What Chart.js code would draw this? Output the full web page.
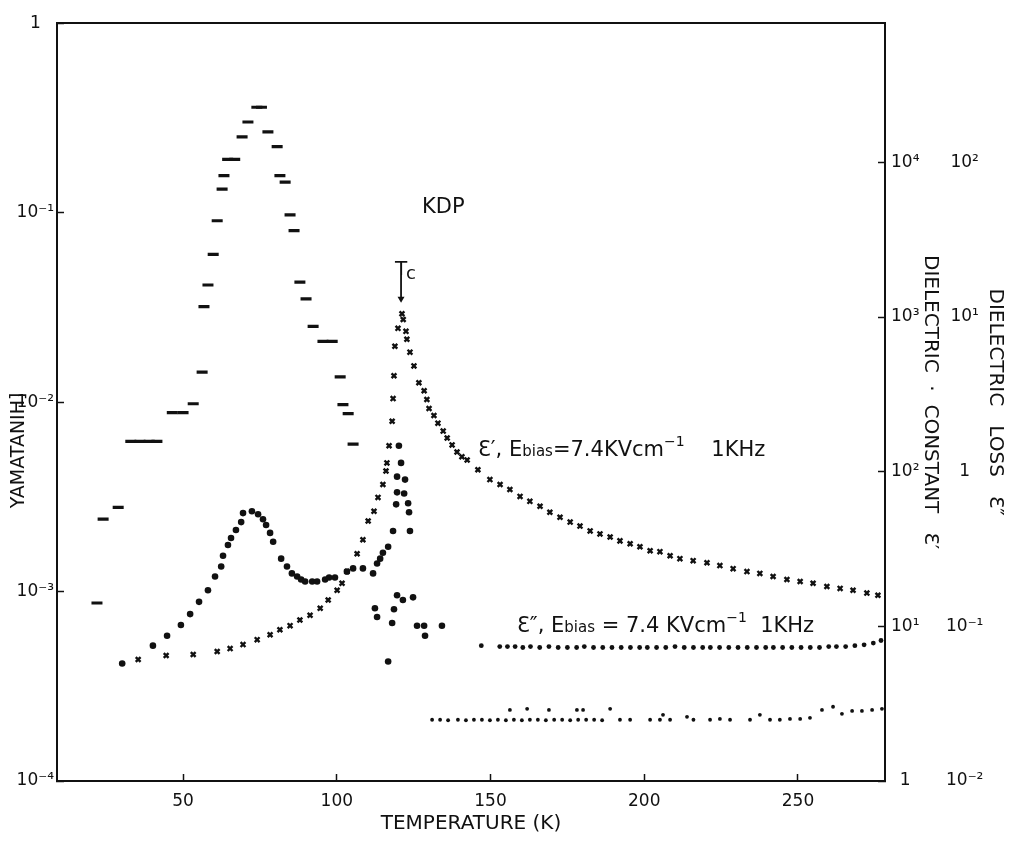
<!DOCTYPE html>
<html>
<head>
<meta charset="utf-8">
<script src="https://cdn.jsdelivr.net/npm/chart.js@4.4.1/dist/chart.umd.min.js"></script>
<style>
  html, body { margin: 0; padding: 0; background: #fff; }
  #wrap { width: 1016px; height: 841px; }
</style>
</head>
<body>
<div id="wrap"><canvas id="myChart" width="1016" height="841"></canvas></div>
<script>
// temperature ticks (K)
const xTicks = [50, 100, 150, 200, 250];

// left axis decades
const leftTickVals = [1e-4, 1e-3, 1e-2, 1e-1, 1];
const leftTickLabels = ['10⁻⁴', '10⁻³', '10⁻²', '10⁻¹', '1'];
// dielectric constant decades
const constTickVals = [1, 10, 100, 1000, 10000];
const constTickLabels = ['1', '10¹', '10²', '10³', '10⁴'];
// dielectric loss decades
const lossTickVals = [0.01, 0.1, 1, 10, 100];
const lossTickLabels = ['10⁻²', '10⁻¹', '1', '10¹', '10²'];

// dashed series, left axis
const leftT = [22, 24, 28.9, 33, 36, 39, 41.5, 46.5, 50, 53.3, 56.2, 56.8, 58.1, 59.8, 61.1,
  62.7, 63.3, 64.5, 66.8, 69.2, 71.1, 74, 75.5, 77.6, 80.6, 81.5, 83.2, 84.8, 86.1, 88, 90,
  92.3, 95.5, 98.5, 101.1, 102, 103.7, 105.3];
const leftV = [8.7e-4, 2.41e-3, 2.78e-3, 6.2e-3, 6.2e-3, 6.2e-3, 6.2e-3, 8.8e-3, 8.8e-3, 9.8e-3,
  0.0144, 0.0319, 0.0415, 0.0602, 0.0906, 0.133, 0.157, 0.191, 0.191, 0.251, 0.301, 0.36, 0.36,
  0.267, 0.223, 0.157, 0.145, 0.0973, 0.0803, 0.043, 0.0351, 0.0251, 0.0209, 0.0209, 0.0136,
  0.0097, 0.0087, 0.006];

// dielectric constant e' (crosses)
const constT = [35.4, 44.5, 53.3, 61.1, 65.3, 69.5, 74.1, 78.3, 81.5, 84.8, 88, 91.3, 94.6, 97.2,
  100.1, 101.7, 103.3, 106.6, 108.5, 110.2, 112.1, 113.4, 115, 116, 116.3, 117, 118, 118.3, 118.6,
  118.9, 119.9, 121.2, 121.6, 122.5, 122.8, 123.8, 125.1, 126.7, 128.4, 129.3, 130, 131.6, 132.9,
  134.6, 135.9, 137.5, 139.1, 140.7, 142.4, 145.9, 149.8, 153.1, 156.3, 159.6, 162.8, 166.1,
  169.3, 172.6, 175.9, 179.1, 182.4, 185.6, 188.9, 192.1, 195.4, 198.6, 201.9, 205.1, 208.4,
  211.6, 215.9, 220.4, 224.6, 228.9, 233.4, 237.6, 241.9, 246.4, 250.7, 254.9, 259.4, 263.7,
  267.9, 272.4, 276];
const constV = [6.11, 6.48, 6.58, 6.87, 7.18, 7.62, 8.2, 8.83, 9.5, 10.1, 11, 11.8, 13.1, 14.8,
  17.1, 19, 22.6, 29.5, 36.3, 48, 55.5, 68.2, 82.6, 101, 114, 147, 212, 297, 417,
  648, 845, 1050, 964, 808, 718, 593, 483, 376, 334, 293, 256, 231, 206,
  183, 165, 149, 134, 125, 119, 103, 88.9, 82.6, 76.7, 69.2, 64.3, 59.8,
  54.7, 50.8, 47.2, 44.5, 41.4, 39.6, 37.8, 35.7, 34.2, 32.7, 30.8, 30.4, 28.6,
  27.4, 26.6, 25.8, 24.7, 23.6, 22.6, 22, 21, 20.1, 19.5, 19, 18.1, 17.6,
  17.1, 16.4, 15.9];

// loss with hump near 72 K (large dots)
const humpT = [30.2, 40.2, 44.8, 49.3, 52.3, 55.2, 58.1, 60.4, 62.4, 63, 64.6, 65.6, 67.2, 68.9,
  69.5, 72.4, 74.4, 76, 77, 78.3, 79.3, 81.9, 83.8, 85.4, 87.1, 88.4, 89.7, 92, 93.6, 96.2, 97.5,
  99.4, 103.3, 105.3, 108.5, 111.8, 113.1, 114.1, 115, 116.7, 118.3, 119.3, 119.6, 119.6, 120.2,
  120.9, 121.9, 122.2, 123.2, 123.5, 123.8];
const humpV = [0.0575, 0.075, 0.0869, 0.102, 0.12, 0.144, 0.171, 0.21, 0.244, 0.286, 0.336, 0.373,
  0.42, 0.472, 0.54, 0.555, 0.531, 0.493, 0.452, 0.402, 0.352, 0.274, 0.244, 0.22, 0.21, 0.201,
  0.195, 0.195, 0.195, 0.201, 0.207, 0.207, 0.226, 0.237, 0.237, 0.22, 0.255, 0.274, 0.299, 0.327,
  0.414, 0.615, 0.735, 0.929, 1.47, 1.14, 0.723, 0.889, 0.625, 0.547, 0.414];

// scattered loss points around Tc
const scatT = [112.4, 113.1, 116.7, 118, 118.6, 119.6, 121.5, 124.8, 126.1, 128.4, 128.7, 134.2];
const scatV = [0.131, 0.115, 0.0593, 0.105, 0.129, 0.159, 0.148, 0.154, 0.101, 0.101, 0.0869, 0.101];

// e'' with bias, flat row
const flatT = [147, 153, 155.5, 158, 160.5, 163, 166, 169, 172, 175, 178, 180.5, 183.5, 186.5,
  189.5, 192.5, 195.5, 198.5, 201, 204, 207, 210, 213, 216, 219, 221.5, 224.5, 227.5, 230.5,
  233.5, 236.5, 239.5, 242, 245, 248, 251, 254, 257, 260, 262.5, 265.5, 268.5, 271.5, 274.5, 277];
const flatV = [0.075, 0.074, 0.074, 0.074, 0.073, 0.074, 0.073, 0.074, 0.073, 0.073, 0.073, 0.074,
  0.073, 0.073, 0.073, 0.073, 0.073, 0.073, 0.073, 0.073, 0.073, 0.074, 0.073, 0.073, 0.073, 0.073,
  0.073, 0.073, 0.073, 0.073, 0.073, 0.073, 0.073, 0.073, 0.073, 0.073, 0.073, 0.073, 0.074, 0.074,
  0.074, 0.075, 0.076, 0.078, 0.081];

// lowest row
const lowT = [131, 133.6, 136.2, 139.4, 142, 144.6, 147.2, 149.8, 152.4, 155, 156.3, 157.6, 160.2,
  161.9, 162.8, 165.4, 168, 169, 170.7, 173.3, 175.9, 178.1, 178.5, 180.1, 181.1, 183.7, 186.3,
  188.9, 192.1, 195.4, 201.9, 205.1, 206.1, 208.4, 213.9, 216, 221.4, 224.6, 227.9, 234.4, 237.6,
  240.9, 244.1, 247.4, 250.7, 253.9, 257.8, 261.4, 264.3, 267.6, 270.8, 274.1, 277.3];
const lowV = [0.0249, 0.0249, 0.0247, 0.0249, 0.0247, 0.0249, 0.0249, 0.0247, 0.0249, 0.0247,
  0.0288, 0.0249, 0.0247, 0.0293, 0.0249, 0.0249, 0.0247, 0.0288, 0.0249, 0.0249, 0.0247, 0.0288,
  0.0249, 0.0288, 0.0249, 0.0249, 0.0247, 0.0293, 0.0249, 0.0249, 0.0249, 0.0249, 0.0268, 0.0249,
  0.026, 0.0249, 0.0249, 0.0252, 0.0249, 0.0249, 0.0268, 0.0249, 0.0249, 0.0252, 0.0252, 0.0256,
  0.0288, 0.0302, 0.0272, 0.0284, 0.0284, 0.0288, 0.0293];

const ink = '#111';
const fam = '"DejaVu Sans", sans-serif';

const pts = (xs, ys) => xs.map((x, i) => ({ x: x, y: ys[i] }));

const dot = (data, axis, r) => ({
    data: data, yAxisID: axis, pointStyle: 'circle', pointRadius: r,
    pointBackgroundColor: ink, pointBorderColor: ink, pointBorderWidth: 0
});

// text drawn inside the plot
const notes = {
    id: 'notes',
    afterDatasetsDraw(chart) {
        const { ctx, scales: { x, yc } } = chart;
        const drawParts = (px, py, parts) => {
            let cx = px;
            parts.forEach(p => {
                ctx.font = p.s + 'px ' + fam;
                ctx.fillText(p.t, cx, py + (p.dy || 0));
                cx += ctx.measureText(p.t).width;
            });
        };
        ctx.save();
        ctx.fillStyle = ink;
        ctx.strokeStyle = ink;
        ctx.textBaseline = 'alphabetic';
        ctx.textAlign = 'left';

        ctx.font = '21px ' + fam;
        ctx.fillText('KDP', x.getPixelForValue(127.7), yc.getPixelForValue(4721));

        // Tc with arrow
        const tx = x.getPixelForValue(120.9);
        ctx.textAlign = 'center';
        ctx.font = '20px ' + fam;
        ctx.fillText('T', tx, yc.getPixelForValue(1870));
        ctx.textAlign = 'left';
        ctx.font = '18px ' + fam;
        ctx.fillText('c', tx + 5, yc.getPixelForValue(1760));
        const a0 = yc.getPixelForValue(1870), a1 = yc.getPixelForValue(1238);
        ctx.lineWidth = 1.8;
        ctx.beginPath();
        ctx.moveTo(tx, a0);
        ctx.lineTo(tx, a1 - 5);
        ctx.stroke();
        ctx.beginPath();
        ctx.moveTo(tx - 3.5, a1 - 6);
        ctx.lineTo(tx + 3.5, a1 - 6);
        ctx.lineTo(tx, a1);
        ctx.closePath();
        ctx.fill();

        drawParts(x.getPixelForValue(145.9), yc.getPixelForValue(126.5), [
            { t: 'Ɛ\u2032', s: 21 }, { t: ', E', s: 21 }, { t: 'bias', s: 15 },
            { t: '=7.4KVcm', s: 21 }, { t: '\u22121', s: 14, dy: -10 }, { t: '    1KHz', s: 21 }
        ]);
        drawParts(x.getPixelForValue(158.6), yc.getPixelForValue(9.22), [
            { t: 'Ɛ\u2033', s: 21 }, { t: ', E', s: 21 }, { t: 'bias', s: 15 },
            { t: ' = 7.4 KVcm', s: 21 }, { t: '\u22121', s: 14, dy: -10 }, { t: '  1KHz', s: 21 }
        ]);
        ctx.restore();
    }
};

const ctx = document.getElementById('myChart').getContext('2d');

const data = {
    datasets: [
        {
            data: pts(leftT, leftV), yAxisID: 'yLeft', pointStyle: 'line', pointRadius: 5.5,
            pointBorderWidth: 3.2, pointBorderColor: ink, pointBackgroundColor: ink
        },
        {
            data: pts(constT, constV), yAxisID: 'yc', pointStyle: 'crossRot', pointRadius: 3.4,
            pointBorderWidth: 2.4, pointBorderColor: ink, pointBackgroundColor: ink
        },
        dot(pts(humpT, humpV), 'yl', 3.3),
        dot(pts(scatT, scatV), 'yl', 3.3),
        dot(pts(flatT, flatV), 'yl', 2.4),
        dot(pts(lowT, lowV), 'yl', 1.9)
    ]
};

const tickFont = { family: fam, size: 17 };

const options = {
    type: 'scatter',
    data: data,
    options: {
        responsive: false,
        animation: false,
        devicePixelRatio: 1,
        layout: { padding: { top: 13, right: 9, bottom: 0, left: 0 } },
        plugins: { legend: { display: false }, tooltip: { enabled: false } },
        scales: {
            x: {
                type: 'linear', position: 'bottom', min: 9, max: 278.3,
                afterBuildTicks: s => { s.ticks = xTicks.map(v => ({ value: v })); },
                ticks: { color: ink, font: tickFont, padding: 17, maxRotation: 0, autoSkip: false },
                grid: { drawOnChartArea: false, tickLength: -7, tickColor: ink, tickWidth: 1.5 },
                border: { color: ink, width: 2 },
                title: {
                    display: true, text: 'TEMPERATURE (K)', color: ink,
                    font: { family: fam, size: 20 }, padding: { top: 0, bottom: 5 }
                },
                afterFit: s => { s.height = 60; }
            },
            x2: {
                type: 'linear', position: 'top', min: 9, max: 278.3, display: true,
                ticks: { display: false },
                grid: { display: false, drawTicks: false },
                border: { display: true, color: ink, width: 2 },
                afterFit: s => { s.height = 0; }
            },
            yLeft: {
                type: 'logarithmic', position: 'left', min: 1e-4, max: 1,
                afterBuildTicks: s => { s.ticks = leftTickVals.map(v => ({ value: v })); },
                ticks: {
                    color: ink, font: tickFont, padding: 10, crossAlign: 'center', autoSkip: false,
                    callback: (v, i) => leftTickLabels[i]
                },
                grid: { drawOnChartArea: false, tickLength: -7, tickColor: ink, tickWidth: 1.5 },
                border: { color: ink, width: 2 },
                title: {
                    display: true, text: 'YAMATANIH]                ', color: ink,
                    font: { family: fam, size: 19 }, padding: { top: 8, bottom: 0 }
                },
                afterFit: s => { s.width = 57; }
            },
            yc: {
                type: 'logarithmic', position: 'right', weight: 1, min: 1, max: 79433,
                afterBuildTicks: s => { s.ticks = constTickVals.map(v => ({ value: v })); },
                ticks: {
                    color: ink, font: tickFont, padding: 13, crossAlign: 'center', autoSkip: false,
                    callback: (v, i) => constTickLabels[i]
                },
                grid: { drawOnChartArea: false, tickLength: -7, tickColor: ink, tickWidth: 1.5 },
                border: { color: ink, width: 2 },
                title: {
                    display: true, text: 'DIELECTRIC  ·  CONSTANT   Ɛ\u2032', color: ink,
                    font: { family: fam, size: 20 }, padding: { top: 0, bottom: 0 }
                },
                afterFit: s => { s.width = 57; }
            },
            yl: {
                type: 'logarithmic', position: 'right', weight: 2, min: 0.01, max: 794.3,
                afterBuildTicks: s => { s.ticks = lossTickVals.map(v => ({ value: v })); },
                ticks: {
                    color: ink, font: tickFont, padding: 4, crossAlign: 'center', autoSkip: false,
                    callback: (v, i) => lossTickLabels[i]
                },
                grid: { display: false, drawTicks: false },
                border: { display: false },
                title: {
                    display: true, text: 'DIELECTRIC   LOSS   Ɛ\u2033', color: ink,
                    font: { family: fam, size: 20 }, padding: { top: 0, bottom: 0 }
                },
                afterFit: s => { s.width = 65; }
            }
        }
    },
    plugins: [notes]
};

const chart = new Chart(ctx, options);
</script>
</body>
</html>
